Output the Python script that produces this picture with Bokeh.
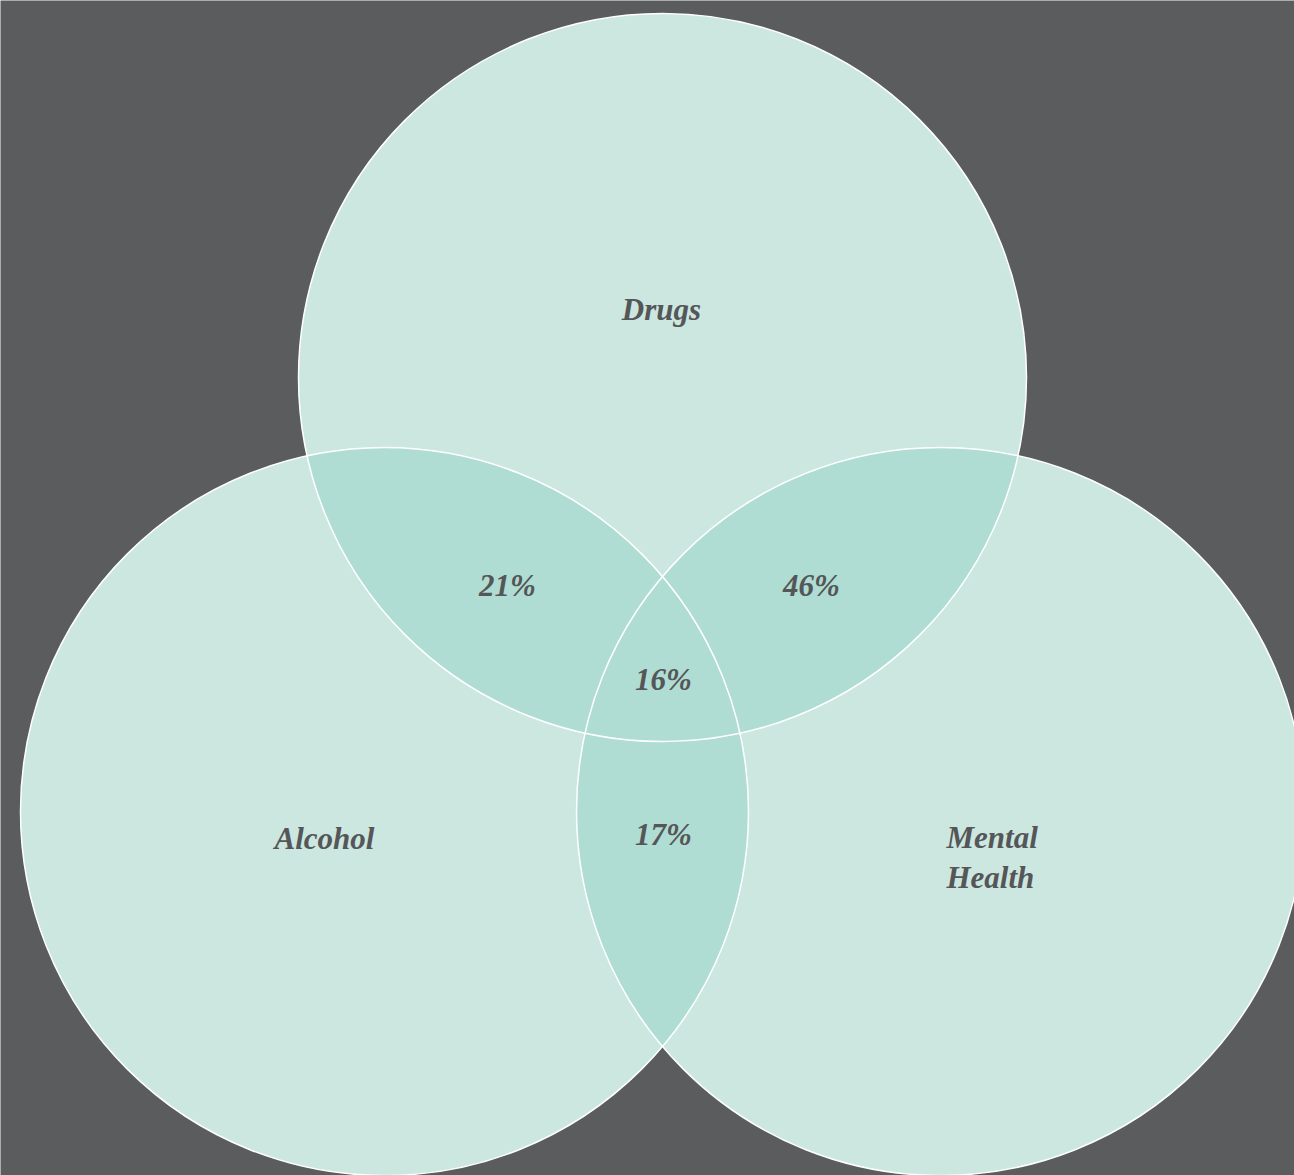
import numpy as np
from bokeh.plotting import figure
from bokeh.models import Range1d, ColumnDataSource
from bokeh.core.properties import value
from bokeh.embed import file_html
from bokeh.resources import INLINE

# ---- data ----
set_names = ["Drugs", "Alcohol", "Mental\nHealth"]
pair_names = ["Drugs & Alcohol", "Drugs & Mental Health", "All three", "Alcohol & Mental Health"]
pair_values = [21, 46, 16, 17]

# ---- layout (pixel space, y downward) ----
W, H = 1294, 1175
R = 364
cx = [662, 384, 940]
cy = [377, 811, 811]
set_label_x = [661, 324, 946]
set_label_y = [309, 838, 857]
set_label_align = ["center", "center", "left"]
pair_label_x = [507, 811, 663, 663]
pair_label_y = [585, 585, 679, 834]

BG = "#5b5c5e"
FILL = "#cbe7e0"
OVER = "#afddd3"
TXT = "#555658"

p = figure(width=W, height=H, x_range=Range1d(0, W), y_range=Range1d(H, 0),
           output_backend="svg", toolbar_location=None, min_border=0)
p.axis.visible = False
p.grid.visible = False
p.outline_line_color = None
p.background_fill_color = BG
p.border_fill_color = BG

# circles
p.circle(x=cx, y=cy, radius=R, fill_color=FILL, line_color=None)

# lenses (pairwise intersections)
def lens(i, j, n=200):
    ci = np.array([cx[i], cy[i]], float)
    cj = np.array([cx[j], cy[j]], float)
    d = np.linalg.norm(cj - ci)
    a = np.arccos(d / (2 * R))
    tij = np.arctan2(*(cj - ci)[::-1])
    tji = tij + np.pi
    t1 = tij + np.linspace(-a, a, n)
    t2 = tji + np.linspace(-a, a, n)
    xs = np.concatenate([ci[0] + R * np.cos(t1), cj[0] + R * np.cos(t2)])
    ys = np.concatenate([ci[1] + R * np.sin(t1), cj[1] + R * np.sin(t2)])
    return list(xs), list(ys)

lx, ly = [], []
for (i, j) in [(0, 1), (0, 2), (1, 2)]:
    a, b = lens(i, j)
    lx.append(a)
    ly.append(b)
p.patches(xs=lx, ys=ly, fill_color=OVER, line_color=None)

# outlines
p.circle(x=cx, y=cy, radius=R, fill_color=None, line_color="white", line_width=1.5)

# labels
src_sets = ColumnDataSource(dict(x=set_label_x, y=set_label_y, t=set_names, al=set_label_align))
p.text(x="x", y="y", text="t", source=src_sets, text_font=value("Liberation Serif"),
       text_font_style="bold italic", text_font_size="31px", text_color=TXT,
       text_align="al", text_baseline="middle", text_line_height=1.13)

src_pairs = ColumnDataSource(dict(x=pair_label_x, y=pair_label_y,
                                  t=[f"{v}%" for v in pair_values]))
p.text(x="x", y="y", text="t", source=src_pairs, text_font=value("Liberation Serif"),
       text_font_style="bold italic", text_font_size="31px", text_color=TXT,
       text_align="center", text_baseline="middle")

open("out.html", "w").write(file_html(p, INLINE))
